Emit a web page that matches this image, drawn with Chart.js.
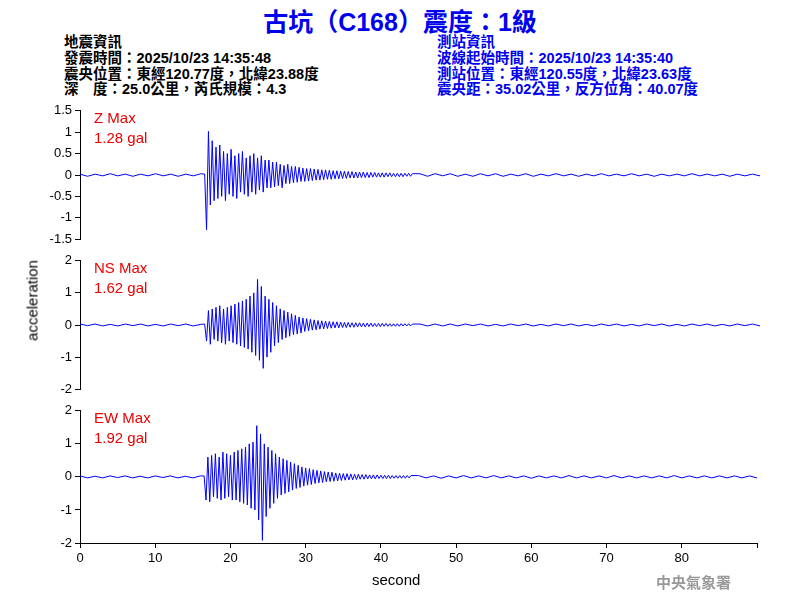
<!DOCTYPE html>
<html><head><meta charset="utf-8">
<script src="https://cdn.jsdelivr.net/npm/chart.js@4"></script>
<style>
body{margin:0;background:#fff;width:800px;height:600px;position:relative;overflow:hidden;font-family:"Liberation Sans","Noto Sans CJK TC",sans-serif}
.t{position:absolute;white-space:nowrap}
#title{left:0;width:800px;text-align:center;top:2px;font-size:25px;font-weight:bold;color:#0000ee}
.info{font-size:14.5px;font-weight:bold;line-height:15.8px}
.lab{color:#ee0000;font-size:15px;line-height:20px}
.w{position:absolute;left:0;width:760px}
</style></head><body>
<div class="t" id="title">古坑（C168）震度：1級</div>
<div class="t info" style="left:64px;top:35px;color:#000">地震資訊<br>發震時間：2025/10/23 14:35:48<br>震央位置：東經120.77度，北緯23.88度<br>深　度：25.0公里，芮氏規模：4.3</div>
<div class="t info" style="left:437px;top:35px;color:#0000ee">測站資訊<br>波線起始時間：2025/10/23 14:35:40<br>測站位置：東經120.55度，北緯23.63度<br>震央距：35.02公里，反方位角：40.07度</div>
<div class="w" style="top:100px;height:150px"><canvas id="c1"></canvas></div>
<div class="w" style="top:250px;height:150px"><canvas id="c2"></canvas></div>
<div class="w" style="top:400px;height:200px"><canvas id="c3"></canvas></div>
<div class="t lab" style="left:94px;top:108px">Z Max<br>1.28 gal</div>
<div class="t lab" style="left:94px;top:258px">NS Max<br>1.62 gal</div>
<div class="t lab" style="left:94px;top:408px">EW Max<br>1.92 gal</div>
<div class="t" style="left:-23px;top:292px;font-size:15px;color:#000;transform:rotate(-90deg);transform-origin:center;width:110px;text-align:center">acceleration</div>
<div class="t" style="left:372px;top:571px;font-size:15px">second</div>
<div class="t" style="left:656px;top:571px;font-size:15px;color:#999;font-weight:bold;font-family:'Noto Sans CJK TC'">中央氣象署</div>
<script>
// sample times: 0..16 step 1, 16.5..44 step 0.25, 45..90 step 1
const preTimes=[0,1,2,3,4,5,6,7,8,9,10,11,12,13,14,15,16];
const zPre=[0.02,-0.03,0.02,-0.02,0.03,-0.02,0.02,-0.03,0.02,-0.02,0.03,-0.02,0.02,-0.03,0.02,-0.02,0.03];
const nsPre=[0.03,-0.02,0.03,-0.03,0.02,-0.03,0.03,-0.02,0.03,-0.03,0.02,-0.03,0.03,-0.02,0.03,-0.03,0.02];
const ewPre=[0.03,-0.03,0.02,-0.03,0.03,-0.02,0.03,-0.03,0.02,-0.03,0.03,-0.02,0.03,-0.03,0.02,-0.03,0.03];
const zAct=[0.02,-1.28,1.02,-0.7,0.8,-0.6,0.65,-0.55,0.7,-0.5,0.55,-0.6,0.5,-0.45,0.6,-0.5,0.45,-0.55,0.5,-0.4,0.55,-0.45,0.4,-0.5,0.45,-0.4,0.5,-0.45,0.4,-0.35,0.45,-0.4,0.35,-0.3,0.35,-0.3,0.3,-0.28,0.3,-0.25,0.25,-0.3,0.22,-0.2,0.25,-0.2,0.2,-0.18,0.2,-0.17,0.18,-0.15,0.16,-0.15,0.15,-0.14,0.15,-0.13,0.14,-0.12,0.13,-0.12,0.12,-0.11,0.12,-0.1,0.11,-0.1,0.1,-0.09,0.1,-0.09,0.09,-0.08,0.09,-0.08,0.08,-0.07,0.08,-0.07,0.07,-0.07,0.07,-0.06,0.07,-0.06,0.06,-0.06,0.06,-0.05,0.06,-0.05,0.05,-0.05,0.05,-0.05,0.05,-0.04,0.05,-0.04,0.04,-0.04,0.04,-0.04,0.04,-0.04,0.04,-0.03,0.04,-0.03,0.03];
const nsAct=[0.03,-0.5,0.45,-0.6,0.5,-0.45,0.55,-0.5,0.6,-0.55,0.5,-0.6,0.55,-0.5,0.6,-0.55,0.65,-0.6,0.7,-0.65,0.75,-0.7,0.8,-0.75,0.9,-0.85,1.0,-0.95,1.42,-1.1,1.2,-1.35,0.9,-1.0,0.8,-0.85,0.7,-0.65,0.6,-0.55,0.5,-0.45,0.45,-0.4,0.4,-0.35,0.35,-0.3,0.3,-0.28,0.25,-0.25,0.22,-0.2,0.2,-0.18,0.18,-0.16,0.16,-0.15,0.14,-0.13,0.13,-0.12,0.12,-0.11,0.11,-0.1,0.1,-0.09,0.1,-0.09,0.09,-0.08,0.08,-0.08,0.08,-0.07,0.07,-0.07,0.07,-0.06,0.07,-0.06,0.06,-0.06,0.06,-0.05,0.06,-0.05,0.05,-0.05,0.05,-0.05,0.05,-0.04,0.05,-0.04,0.04,-0.04,0.04,-0.04,0.04,-0.04,0.04,-0.03,0.04,-0.03,0.04,-0.03,0.03];
const ewAct=[0.03,-0.7,0.6,-0.75,0.65,-0.6,0.7,-0.65,0.6,-0.7,0.75,-0.65,0.7,-0.6,0.65,-0.7,0.75,-0.7,0.8,-0.75,0.85,-0.8,0.9,-0.85,1.0,-0.95,1.05,-1.0,1.55,-1.3,1.3,-1.92,1.0,-1.2,0.9,-0.95,0.8,-0.8,0.7,-0.65,0.6,-0.55,0.55,-0.5,0.5,-0.45,0.45,-0.4,0.4,-0.35,0.35,-0.32,0.3,-0.28,0.27,-0.25,0.25,-0.23,0.22,-0.2,0.2,-0.18,0.18,-0.17,0.16,-0.15,0.15,-0.14,0.14,-0.13,0.12,-0.12,0.11,-0.11,0.1,-0.1,0.1,-0.09,0.09,-0.09,0.08,-0.08,0.08,-0.07,0.07,-0.07,0.07,-0.06,0.06,-0.06,0.06,-0.06,0.06,-0.05,0.05,-0.05,0.05,-0.05,0.05,-0.05,0.04,-0.04,0.04,-0.04,0.04,-0.04,0.04,-0.04,0.04,-0.03,0.04];
const zPost=[0.03,-0.03,0.03,-0.02,0.03,-0.03,0.02,-0.03,0.03,-0.02,0.03,-0.03,0.02,-0.02,0.03,-0.03,0.02,-0.02,0.03,-0.02,0.02,-0.03,0.02,-0.02,0.03,-0.02,0.02,-0.02,0.03,-0.02,0.02,-0.03,0.02,-0.02,0.02,-0.02,0.03,-0.02,0.02,-0.02,0.02,-0.03,0.02,-0.02,0.02,-0.02];
const nsPost=[0.03,-0.03,0.03,-0.03,0.03,-0.03,0.03,-0.02,0.03,-0.03,0.02,-0.03,0.03,-0.02,0.03,-0.03,0.02,-0.03,0.03,-0.02,0.03,-0.03,0.02,-0.03,0.03,-0.02,0.03,-0.03,0.02,-0.03,0.03,-0.02,0.03,-0.03,0.02,-0.03,0.03,-0.02,0.03,-0.03,0.02,-0.03,0.03,-0.02,0.03,-0.03];
const ewPost=[0.04,-0.03,0.03,-0.04,0.03,-0.03,0.04,-0.03,0.03,-0.03,0.04,-0.03,0.03,-0.03,0.03,-0.04,0.03,-0.03,0.03,-0.03,0.04,-0.03,0.03,-0.03,0.03,-0.03,0.04,-0.03,0.03,-0.03,0.03,-0.03,0.03,-0.03,0.04,-0.03,0.03,-0.03,0.03,-0.03,0.03,-0.03,0.03,-0.03,0.03,-0.03];
const zTicks=[-1.5,-1,-0.5,0,0.5,1,1.5];
const hTicks=[-2,-1,0,1,2];

function times(){const t=[...preTimes];for(let i=0;i<zAct.length;i++)t.push(16.5+i*0.25);for(let i=0;i<zPost.length;i++)t.push(45+i);return t;}
const T=times();
function pts(a,b,c){const v=[...a,...b,...c];return v.map((y,i)=>({x:T[i],y}));}
const font={family:'Liberation Sans',size:13};
function mk(id,data,lim,ticks,showX){
  new Chart(document.getElementById(id),{type:'line',
    data:{datasets:[{data,borderColor:'#0000ff',borderWidth:1,pointRadius:0,tension:0}]},
    options:{responsive:true,maintainAspectRatio:false,animation:false,events:[],
      layout:{padding:0},
      plugins:{legend:{display:false},tooltip:{enabled:false}},
      scales:{
        x:{type:'linear',min:0,max:90,display:showX,
          grid:{drawOnChartArea:false,color:'#000',tickLength:5},border:{color:'#000'},
          ticks:{stepSize:10,color:'#000',font,maxRotation:0,callback:v=>v===90?'':v},
          afterFit:s=>{s.height=showX?57:0;}},
        y:{min:-lim,max:lim,afterBuildTicks:s=>{s.ticks=ticks.map(v=>({value:v}));},
          grid:{drawOnChartArea:false,color:'#000',tickLength:5},border:{color:'#000'},
          ticks:{color:'#000',font,padding:3,autoSkip:false,callback:v=>String(v)},afterFit:s=>{s.width=80;}}
      }}});
}
mk('c1',pts(zPre,zAct,zPost),1.5,zTicks,false);
mk('c2',pts(nsPre,nsAct,nsPost),2,hTicks,false);
mk('c3',pts(ewPre,ewAct,ewPost),2,hTicks,true);
</script></body></html>
